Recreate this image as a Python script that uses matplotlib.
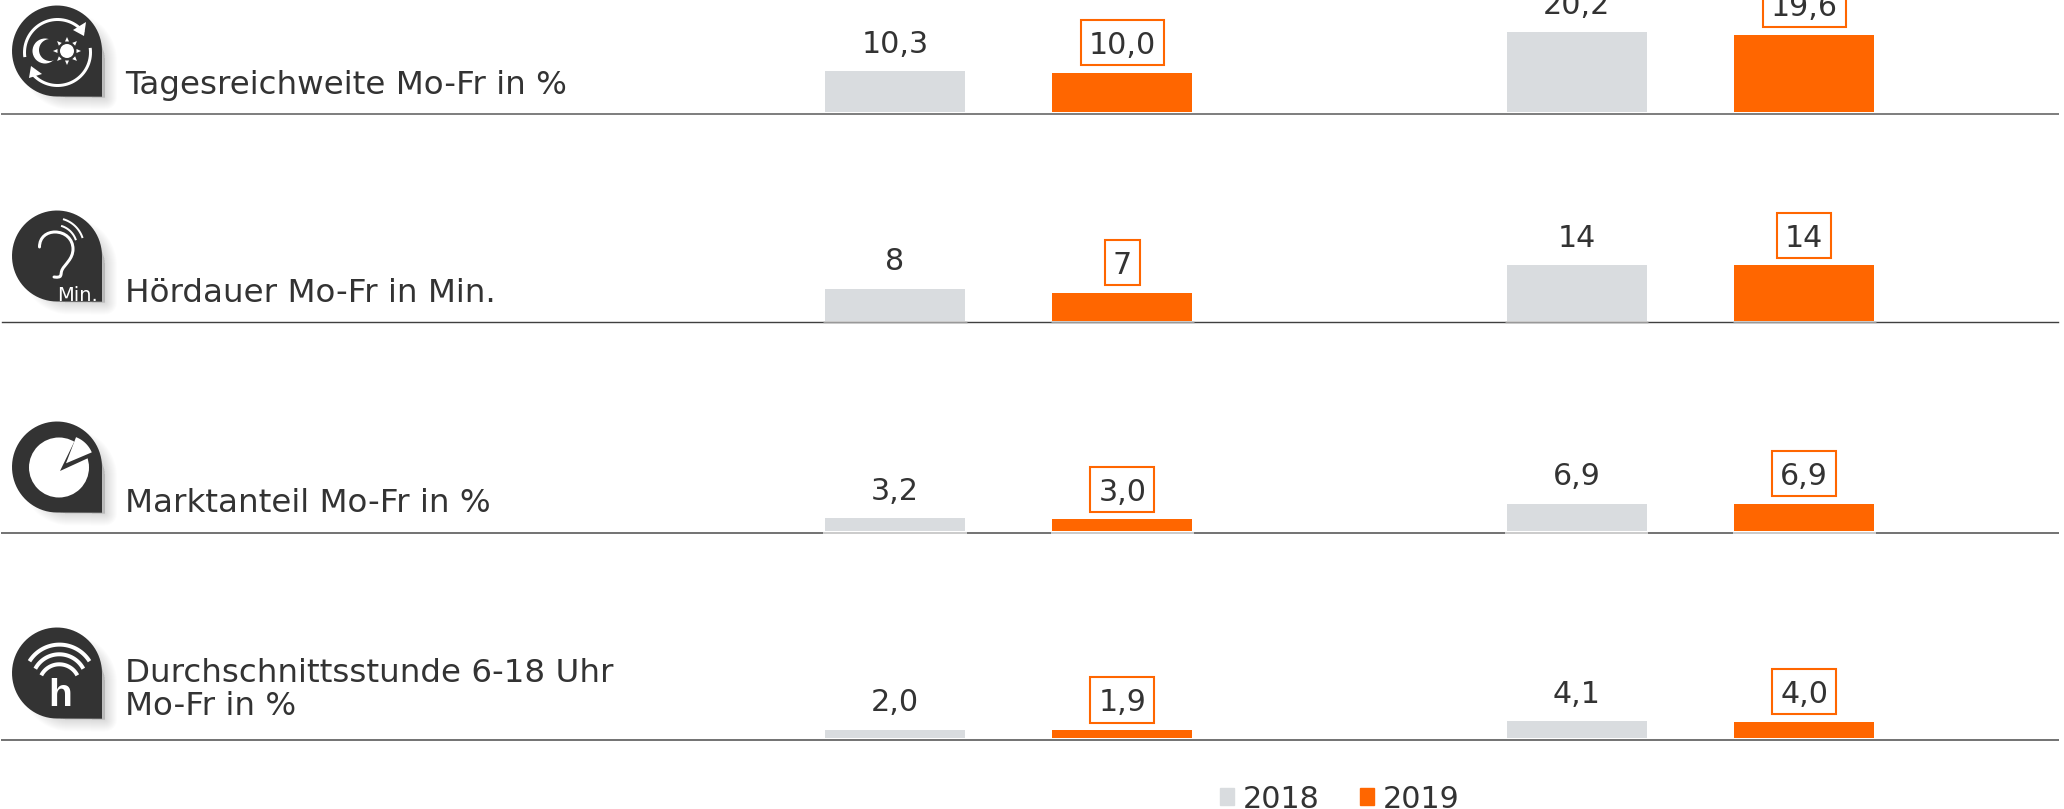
import numpy as np
import matplotlib
matplotlib.use('Agg')
import matplotlib.pyplot as plt
from matplotlib.patches import Circle, PathPatch, Patch, Polygon
from matplotlib.path import Path

W, H = 2064, 809

# data
row_labels = ['Tagesreichweite Mo-Fr in %', 'Hördauer Mo-Fr in Min.',
              'Marktanteil Mo-Fr in %', 'Durchschnittsstunde 6-18 Uhr\nMo-Fr in %']
values_2018 = [[10.3, 20.2], [8, 14], [3.2, 6.9], [2.0, 4.1]]
values_2019 = [[10.0, 19.6], [7, 14], [3.0, 6.9], [1.9, 4.0]]
decimals = [1, 0, 1, 1]
years = ['2018', '2019']

GREY = '#d9dcdf'
ORANGE = '#ff6600'
DARK = '#333333'
FS = 21.7
FS_LABEL = 23.4

# layout in pixels of the picture
line_y = [113.7, 322.3, 532.7, 739.8]
bar_y = [112.0, 320.5, 531.0, 737.5]
line_col = ['#808080', '#404040', '#757575', '#757575']
line_w = [2, 1.4, 2, 2]
under_bar_col = [None, '#999999', '#cccccc', None]
px_per_unit = 3.95
px_per_step = 227.3
first_bar_px = 895
ax_height = 100
left_px, right_px = 2, 2058
icon_dy = [0, 205, 416, 622]
label_xy = [(125, 94), (125, 301.5), (125, 512.5), (125, 681.5)]


def fmt(v, d):
    return f'{v:.{d}f}'.replace('.', ',')


fig = plt.figure(figsize=(W / 100, H / 100), dpi=100, facecolor='white')

for r in range(4):
    bottom = 1 - line_y[r] / H
    ax = fig.add_axes([left_px / W, bottom, (right_px - left_px) / W, ax_height / H])
    ax.patch.set_alpha(0)
    gap = (line_y[r] - bar_y[r]) / px_per_unit
    ax.set_ylim(-gap, ax_height / px_per_unit - gap)
    ax.set_xlim((left_px - first_bar_px) / px_per_step, (right_px - first_bar_px) / px_per_step)
    for s in ['top', 'left', 'right']:
        ax.spines[s].set_visible(False)
    ax.spines['bottom'].set_color(line_col[r])
    ax.spines['bottom'].set_linewidth(line_w[r] * 0.72)
    ax.set_xticks([])
    ax.set_yticks([])
    x18 = np.array([0, 3])
    x19 = np.array([1, 4])
    ax.bar(x18, values_2018[r], width=0.617, color=GREY, edgecolor='none')
    ax.bar(x19, values_2019[r], width=0.617, color=ORANGE, edgecolor='none')
    # line looks paler right under the bars
    if under_bar_col[r]:
        for x in [0, 1, 3, 4]:
            ax.hlines(-gap, x - 0.315, x + 0.315, color=under_bar_col[r], lw=line_w[r] * 0.72,
                      zorder=5, clip_on=False)
    for x, v in zip(x18, values_2018[r]):
        ax.annotate(fmt(v, decimals[r]), (x, v), xytext=(0, 18.5 * 0.72), textcoords='offset points',
                    ha='center', va='baseline', fontsize=FS, color=DARK, annotation_clip=False)
    for x, v in zip(x19, values_2019[r]):
        # box first (with hidden text), because it sits a little higher than the number
        ax.annotate(fmt(v, decimals[r]), (x, v), xytext=(0, 21.5 * 0.72), textcoords='offset points',
                    ha='center', va='baseline', fontsize=FS, color='none', annotation_clip=False,
                    bbox=dict(boxstyle='square,pad=0.27', fc='white', ec=ORANGE, lw=1.5))
        ax.annotate(fmt(v, decimals[r]), (x, v), xytext=(0, 18.5 * 0.72), textcoords='offset points',
                    ha='center', va='baseline', fontsize=FS, color=DARK, annotation_clip=False)

# overlay in pixel coordinates for icons and row labels
ov = fig.add_axes([0, 0, 1, 1])
ov.set_xlim(0, W)
ov.set_ylim(H, 0)
ov.axis('off')
ov.patch.set_alpha(0)


def arc(cx, cy, r, a0, a1, dy, lw, color='white'):
    a = np.radians(np.linspace(a0, a1, 40))
    ov.plot(cx + r * np.cos(a), cy + dy + r * np.sin(a), color=color, lw=lw * 0.72,
            solid_capstyle='butt')


def drop(dy):
    t = np.radians(np.linspace(0, -270, 60))
    xs = 57 + 45 * np.cos(t)
    ys = 51 + 45.5 * np.sin(t)
    pts = np.column_stack([xs, ys])
    pts = np.vstack([pts, [[102, 96.7]], [pts[0]]])
    # soft shadow: smaller copy pushed to lower right, outline grows layer by layer
    shadow = (pts - [57, 51]) * 0.8 + [57 + 12, 51 + dy + 10]
    for k in range(1, 13):
        ov.add_patch(Polygon(shadow, closed=True, fc='#000000', ec='#000000',
                             alpha=0.012, lw=2 * k * 0.72, joinstyle='round'))
    ov.add_patch(Polygon(pts + [0, dy], closed=True, fc=DARK, ec='none'))


def icon_reach(dy):
    arc(57.5, 52.5, 33, 172, 322, dy, 3)
    arc(57.5, 52.5, 33, -8, 142, dy, 3)
    ov.add_patch(Polygon([[86, 22 + dy], [84, 36 + dy], [73, 30 + dy]], fc='white'))
    ov.add_patch(Polygon([[29, 78 + dy], [31, 66 + dy], [42, 74 + dy]], fc='white'))
    ov.add_patch(Circle((45, 51 + dy), 12.5, fc='white', ec='none'))
    ov.add_patch(Circle((50, 50 + dy), 11, fc=DARK, ec='none'))
    ov.add_patch(Circle((67, 51 + dy), 7, fc='white', ec='none'))
    for ang in np.radians(np.arange(0, 360, 45)):
        c, s = np.cos(ang), np.sin(ang)
        ov.add_patch(Polygon([[67 + 9.5 * c - 2 * s, 51 + dy + 9.5 * s + 2 * c],
                              [67 + 9.5 * c + 2 * s, 51 + dy + 9.5 * s - 2 * c],
                              [67 + 14 * c, 51 + dy + 14 * s]], fc='white', ec='none'))


def icon_ear(dy):
    verts = [(39.5, 42), (39.5, 32), (47, 27), (55, 27), (65, 27), (73, 34), (73, 44),
             (73, 54), (65, 59), (62, 65), (60, 70), (63, 73), (54, 72)]
    verts = [(x, y + dy) for x, y in verts]
    codes = [Path.MOVETO] + [Path.CURVE4] * 12
    ov.add_patch(PathPatch(Path(verts, codes), fc='none', ec='white', lw=3 * 0.72, capstyle='round'))
    arc(55, 42, 29, -74, -18, dy, 2)
    arc(55, 42, 22, -74, -18, dy, 2)
    ov.text(57, 96 + dy, 'Min.', color='white', fontsize=14, va='baseline', ha='left')


def icon_pie(dy):
    ov.add_patch(Circle((59, 51.5 + dy), 30, fc='white', ec='none'))
    ov.add_patch(Polygon([[60, 55 + dy], [79, 16 + dy], [97, 38 + dy]], fc=DARK, ec='none'))
    a = np.radians(np.linspace(-69, -23, 20))
    pts = np.column_stack([66 + 28 * np.cos(a), 47.3 + dy + 28 * np.sin(a)])
    ov.add_patch(Polygon(np.vstack([[66, 47.3 + dy], pts]), fc='white', ec='none'))


def icon_wifi(dy):
    arc(59.5, 58, 35.4, -148, -32, dy, 4)
    arc(59.3, 59.5, 27.2, -152, -28, dy, 4)
    arc(59.3, 62.5, 20.2, -153, -27, dy, 4)
    ov.text(60, 84 + dy, 'h', color='white', fontsize=28, fontweight='bold',
            family='Liberation Sans', ha='center', va='baseline')


icon_funcs = [icon_reach, icon_ear, icon_pie, icon_wifi]
for r in range(4):
    drop(icon_dy[r])
    icon_funcs[r](icon_dy[r])
    ov.text(label_xy[r][0], label_xy[r][1], row_labels[r].split('\n')[0], fontsize=FS_LABEL, color=DARK,
            va='baseline', ha='left')
ov.text(125, 715, row_labels[3].split('\n')[1], fontsize=FS_LABEL, color=DARK, va='baseline', ha='left')

handles = [Patch(color=GREY, label=years[0]), Patch(color=ORANGE, label=years[1])]
fig.legend(handles=handles, loc='center left', bbox_to_anchor=(1220 / W, 1 - 799 / H), ncol=2, frameon=False,
           fontsize=FS, labelcolor=DARK, handlelength=0.46, handleheight=0.48, handletextpad=0.31,
           columnspacing=1.32, borderpad=0, borderaxespad=0)

fig.savefig('out.png', dpi=100)
